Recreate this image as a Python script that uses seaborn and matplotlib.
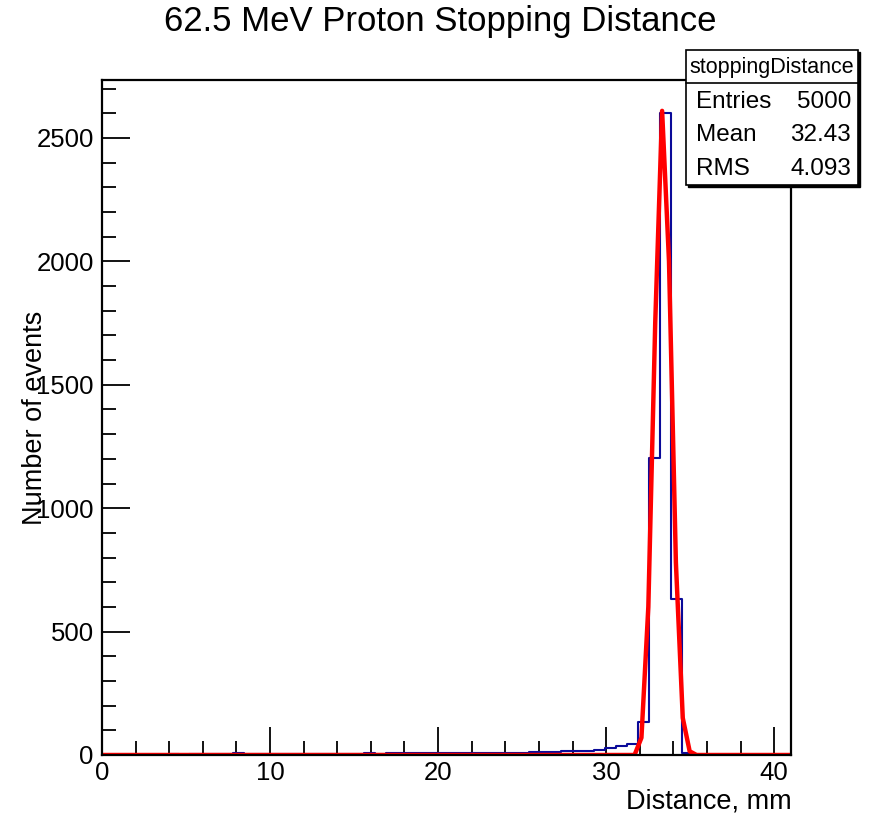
import numpy as np
import pandas as pd
import matplotlib
matplotlib.use("Agg")
import matplotlib.pyplot as plt
import seaborn as sns
from matplotlib.patches import Rectangle
from matplotlib.ticker import MultipleLocator

sns.set_theme(style="white")
plt.rcParams['font.family'] = ['Liberation Sans', 'DejaVu Sans']

# ---- data ----
x_min, x_max, n_bins = 0.0, 41.0, 63
counts = [1, 1, 2, 1, 2, 2, 3, 2, 3, 3, 4,
          6, 7, 5, 6, 5,
          4, 5, 5, 6, 5, 5, 6, 6, 7, 6,
          7, 7, 8, 9, 8, 8, 9, 9, 8, 9, 10, 9, 10, 11,
          12, 14, 15, 17, 18, 22, 27, 36, 43,
          132, 1205, 2600, 632, 8,
          0, 0, 0, 0, 0, 0, 0, 0, 0]
fit_x = [0.0, 31.69, 32.10, 32.51, 32.92, 33.33, 33.74, 34.15, 34.56, 34.97, 35.38, 41.0]
fit_y = [0, 0, 70, 600, 1750, 2610, 2000, 780, 150, 15, 0, 0]

title = "62.5 MeV Proton Stopping Distance"
xlabel = "Distance, mm"
ylabel = "Number of events"
stats_name = "stoppingDistance"
stats_rows = [("Entries", "5000"), ("Mean", "32.43"), ("RMS", "4.093")]

bw = (x_max - x_min) / n_bins
centers = [x_min + (i + 0.5) * bw for i in range(n_bins)]
df = pd.DataFrame({"x": centers, "w": counts})
fit_df = pd.DataFrame({"x": fit_x, "y": fit_y})

fig = plt.figure(figsize=(8.72, 8.18), dpi=100)
ax = fig.add_axes([102/872, 1-755/818, (791-102)/872, (755-80)/818])

sns.histplot(data=df, x="x", weights="w", binwidth=bw, binrange=(x_min, x_max),
             element="step", fill=False, color="#0a0a99", linewidth=1.5, ax=ax)
sns.lineplot(data=fit_df, x="x", y="y", sort=False, color="#ff0000", linewidth=3.2,
             ax=ax, estimator=None)

ax.set_xlim(x_min, x_max)
ax.set_ylim(0, 2735)
ax.set_xlabel("")
ax.set_ylabel("")

for s in ax.spines.values():
    s.set_color("black")
    s.set_linewidth(1.6)

ax.xaxis.set_major_locator(MultipleLocator(10))
ax.xaxis.set_minor_locator(MultipleLocator(2))
ax.yaxis.set_major_locator(MultipleLocator(500))
ax.yaxis.set_minor_locator(MultipleLocator(100))
ax.tick_params(axis="both", which="major", direction="in", length=20, width=1.3,
               color="black", labelsize=18.5, labelcolor="black", top=False, right=False,
               bottom=True, left=True)
ax.tick_params(axis="both", which="minor", direction="in", length=10, width=1.3,
               color="black", top=False, right=False, bottom=True, left=True)
ax.tick_params(axis="x", which="major", pad=4)
ax.tick_params(axis="y", which="major", pad=6)

fig.text(440/872, 1-22/818, title, ha="center", va="center", fontsize=25, color="black")
fig.text(792/872, 1-801/818, xlabel, ha="right", va="center", fontsize=19.5, color="black")
fig.text(35/872, 1-418/818, ylabel, ha="center", va="center", rotation=90,
         fontsize=19.5, color="black")

# stats box
bx0, bx1, by0, by1, bh = 686, 858, 50, 185, 83
fig.patches.append(Rectangle((bx0/872 + 2/872, 1-(by1+2)/818), (bx1-bx0)/872, (by1-by0)/818,
                             transform=fig.transFigure, facecolor="black", edgecolor="black",
                             zorder=5))
fig.patches.append(Rectangle((bx0/872, 1-by1/818), (bx1-bx0)/872, (by1-by0)/818,
                             transform=fig.transFigure, facecolor="white", edgecolor="black",
                             linewidth=1.2, zorder=6))
fig.lines.append(plt.Line2D([bx0/872, bx1/872], [1-bh/818, 1-bh/818], transform=fig.transFigure,
                            color="black", linewidth=1.2, zorder=7))
fig.text((bx0+bx1)/2/872, 1-67/818, stats_name, ha="center", va="center", fontsize=15.5,
         color="black", zorder=8)
row_y = [102, 135, 169]
for (k, v), yy in zip(stats_rows, row_y):
    fig.text(696/872, 1-yy/818, k, ha="left", va="center", fontsize=17.5, color="black", zorder=8)
    fig.text(851/872, 1-yy/818, v, ha="right", va="center", fontsize=17.5, color="black", zorder=8)

fig.savefig("out.png", dpi=100, facecolor="white")
